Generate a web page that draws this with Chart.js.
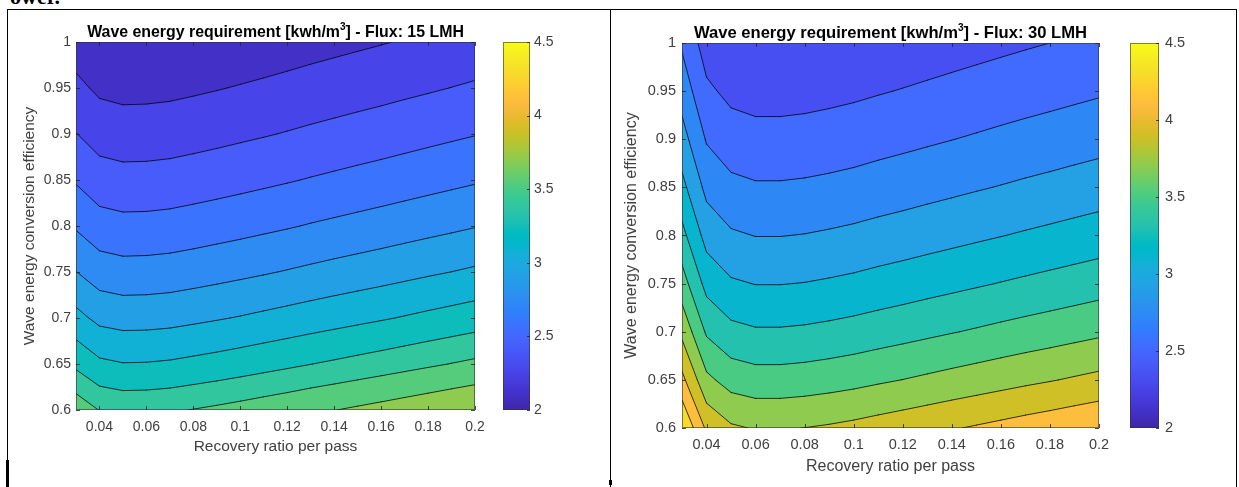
<!DOCTYPE html>
<html>
<head>
<meta charset="utf-8">
<script src="https://cdn.jsdelivr.net/npm/chart.js@4.4.1/dist/chart.umd.min.js"></script>
<style>
  html, body { margin: 0; padding: 0; background: #fff; }
  body { width: 1239px; height: 487px; position: relative; overflow: hidden; }
  canvas { position: absolute; top: 0; }
  .rule { position: absolute; background: #000; }
  .prev { position: absolute; left: 10px; top: -14px; font: bold 22px 'Liberation Serif', 'Times New Roman', serif; line-height: 22px; color: #000; }
</style>
</head>
<body>
<div class="prev">ower.</div>
<canvas id="chart15" width="610" height="487" style="left:0"></canvas>
<canvas id="chart30" width="629" height="487" style="left:610px"></canvas>
<div class="rule" style="left:7px;top:9px;width:1230px;height:1px"></div>
<div class="rule" style="left:7px;top:9px;width:1px;height:478px"></div>
<div class="rule" style="left:6px;top:460px;width:3px;height:27px"></div>
<div class="rule" style="left:610px;top:9px;width:1px;height:478px"></div>
<div class="rule" style="left:609px;top:480px;width:3px;height:5px"></div>
<div class="rule" style="left:1236px;top:9px;width:1px;height:478px"></div>
<script>
// grid axes
const recovery = [0.03, 0.04, 0.05, 0.06, 0.07, 0.08, 0.09, 0.10, 0.11, 0.12, 0.13, 0.14, 0.15, 0.16, 0.17, 0.18, 0.19, 0.20];
const efficiency = [1.00, 0.95, 0.90, 0.85, 0.80, 0.75, 0.70, 0.65, 0.60];

// wave energy requirement [kWh/m3], one row per efficiency, one column per recovery ratio
const energy15 = [
  [2.185, 2.122, 2.106, 2.108, 2.115, 2.128, 2.142, 2.157, 2.173, 2.189, 2.206, 2.222, 2.238, 2.254, 2.271, 2.288, 2.305, 2.322],
  [2.300, 2.234, 2.217, 2.219, 2.226, 2.240, 2.255, 2.271, 2.287, 2.304, 2.322, 2.339, 2.356, 2.373, 2.391, 2.408, 2.426, 2.444],
  [2.428, 2.358, 2.340, 2.342, 2.350, 2.364, 2.380, 2.397, 2.414, 2.432, 2.451, 2.469, 2.487, 2.504, 2.523, 2.542, 2.561, 2.580],
  [2.571, 2.496, 2.478, 2.480, 2.488, 2.504, 2.520, 2.538, 2.556, 2.575, 2.595, 2.614, 2.633, 2.652, 2.672, 2.692, 2.712, 2.732],
  [2.731, 2.653, 2.633, 2.635, 2.644, 2.660, 2.678, 2.696, 2.716, 2.736, 2.758, 2.778, 2.798, 2.818, 2.839, 2.860, 2.881, 2.903],
  [2.913, 2.829, 2.808, 2.811, 2.820, 2.837, 2.856, 2.876, 2.897, 2.919, 2.941, 2.963, 2.984, 3.005, 3.028, 3.051, 3.073, 3.096],
  [3.121, 3.031, 3.009, 3.011, 3.021, 3.040, 3.060, 3.081, 3.104, 3.127, 3.151, 3.174, 3.197, 3.220, 3.244, 3.269, 3.293, 3.317],
  [3.362, 3.265, 3.240, 3.243, 3.254, 3.274, 3.295, 3.318, 3.343, 3.368, 3.394, 3.418, 3.443, 3.468, 3.494, 3.520, 3.546, 3.572],
  [3.642, 3.537, 3.510, 3.513, 3.525, 3.547, 3.570, 3.595, 3.622, 3.648, 3.677, 3.703, 3.730, 3.757, 3.785, 3.813, 3.842, 3.870]
];
const energy30 = [
  [2.697, 2.437, 2.356, 2.333, 2.333, 2.341, 2.354, 2.370, 2.390, 2.409, 2.429, 2.449, 2.469, 2.489, 2.509, 2.528, 2.548, 2.568],
  [2.839, 2.565, 2.480, 2.456, 2.456, 2.464, 2.478, 2.495, 2.516, 2.536, 2.557, 2.578, 2.599, 2.620, 2.641, 2.661, 2.682, 2.703],
  [2.997, 2.708, 2.618, 2.592, 2.592, 2.601, 2.616, 2.633, 2.656, 2.677, 2.699, 2.721, 2.743, 2.766, 2.788, 2.809, 2.831, 2.853],
  [3.173, 2.867, 2.772, 2.745, 2.745, 2.754, 2.769, 2.788, 2.812, 2.834, 2.858, 2.881, 2.905, 2.928, 2.952, 2.974, 2.998, 3.021],
  [3.371, 3.046, 2.945, 2.916, 2.916, 2.926, 2.943, 2.963, 2.988, 3.011, 3.036, 3.061, 3.086, 3.111, 3.136, 3.160, 3.185, 3.210],
  [3.596, 3.249, 3.141, 3.111, 3.111, 3.121, 3.139, 3.160, 3.187, 3.212, 3.239, 3.265, 3.292, 3.319, 3.345, 3.371, 3.397, 3.424],
  [3.853, 3.481, 3.366, 3.333, 3.333, 3.344, 3.363, 3.386, 3.414, 3.441, 3.470, 3.499, 3.527, 3.556, 3.584, 3.611, 3.640, 3.669],
  [4.149, 3.749, 3.625, 3.589, 3.589, 3.602, 3.622, 3.646, 3.677, 3.706, 3.737, 3.768, 3.798, 3.829, 3.860, 3.889, 3.920, 3.951],
  [4.495, 4.062, 3.927, 3.888, 3.888, 3.902, 3.923, 3.950, 3.983, 4.015, 4.048, 4.082, 4.115, 4.148, 4.182, 4.213, 4.247, 4.280]
];

// contour levels (10 per map)
const levels15 = [2.262, 2.424, 2.586, 2.748, 2.910, 3.072, 3.234, 3.396, 3.542, 3.706];
const levels30 = [2.528, 2.724, 2.920, 3.116, 3.312, 3.508, 3.704, 3.900, 4.096, 4.292];

const recoveryTicks = [0.04, 0.06, 0.08, 0.1, 0.12, 0.14, 0.16, 0.18, 0.2];
const efficiencyTicks = [0.6, 0.65, 0.7, 0.75, 0.8, 0.85, 0.9, 0.95, 1];
const colorbarTicks = [2, 2.5, 3, 3.5, 4, 4.5];
const colorLimits = [2, 4.5];

const titleHead = 'Wave energy requirement [kwh/m';
const titleSup = '3';
const titleTail = '] - Flux: ';
const fluxLabels = ['15 LMH', '30 LMH'];
const xTitle = 'Recovery ratio per pass';
const yTitle = 'Wave energy conversion efficiency';

const FONT = "'Liberation Sans', Arial, Helvetica, sans-serif";
const INK = '#404040';

// parula, 64 entries
const PARULA = [
  [0.2422,0.1504,0.6603],[0.2504,0.1650,0.7076],[0.2578,0.1818,0.7511],[0.2647,0.1978,0.7952],
  [0.2706,0.2147,0.8364],[0.2751,0.2342,0.8710],[0.2783,0.2559,0.8991],[0.2803,0.2782,0.9221],
  [0.2813,0.3006,0.9414],[0.2810,0.3228,0.9579],[0.2795,0.3447,0.9717],[0.2760,0.3667,0.9829],
  [0.2699,0.3892,0.9906],[0.2602,0.4123,0.9952],[0.2440,0.4358,0.9988],[0.2206,0.4603,0.9973],
  [0.1963,0.4847,0.9892],[0.1834,0.5074,0.9798],[0.1786,0.5289,0.9682],[0.1764,0.5499,0.9520],
  [0.1687,0.5703,0.9359],[0.1540,0.5902,0.9218],[0.1460,0.6091,0.9079],[0.1380,0.6276,0.8973],
  [0.1248,0.6459,0.8883],[0.1113,0.6635,0.8763],[0.0952,0.6798,0.8598],[0.0689,0.6948,0.8394],
  [0.0297,0.7082,0.8163],[0.0036,0.7203,0.7917],[0.0067,0.7312,0.7660],[0.0433,0.7411,0.7394],
  [0.0964,0.7500,0.7120],[0.1408,0.7584,0.6842],[0.1717,0.7670,0.6554],[0.1938,0.7758,0.6251],
  [0.2161,0.7843,0.5923],[0.2470,0.7918,0.5567],[0.2906,0.7973,0.5188],[0.3406,0.8008,0.4789],
  [0.3909,0.8029,0.4354],[0.4456,0.8024,0.3909],[0.5044,0.7993,0.3480],[0.5616,0.7942,0.3045],
  [0.6174,0.7876,0.2612],[0.6720,0.7793,0.2227],[0.7242,0.7698,0.1910],[0.7738,0.7598,0.1646],
  [0.8203,0.7498,0.1535],[0.8634,0.7406,0.1596],[0.9035,0.7330,0.1774],[0.9393,0.7288,0.2100],
  [0.9728,0.7298,0.2394],[0.9956,0.7434,0.2371],[0.9970,0.7659,0.2199],[0.9952,0.7893,0.2028],
  [0.9892,0.8136,0.1885],[0.9786,0.8386,0.1766],[0.9676,0.8639,0.1643],[0.9610,0.8890,0.1537],
  [0.9597,0.9135,0.1423],[0.9628,0.9373,0.1265],[0.9691,0.9606,0.1064],[0.9769,0.9839,0.0805]
];

function parula(t) {
  t = Math.min(1, Math.max(0, t));
  const f = t * (PARULA.length - 1);
  const i = Math.min(PARULA.length - 2, Math.floor(f));
  const u = f - i;
  const a = PARULA[i], b = PARULA[i + 1];
  return [0, 1, 2].map(k => Math.round(255 * (a[k] + (b[k] - a[k]) * u)));
}

// index of the interval holding v, and the fraction inside it
function locate(arr, v) {
  const n = arr.length - 1;
  for (let k = 0; k < n; k++) {
    const t = (v - arr[k]) / (arr[k + 1] - arr[k]);
    if (t <= 1 || k === n - 1) return [k, Math.min(1, Math.max(0, t))];
  }
}

const fmt = v => String(Number(Number(v).toFixed(3)));

// filled bands + contour lines
function contourLayer(grid, levels) {
  return {
    id: 'contour',
    beforeDatasetsDraw(chart) {
      const { ctx, chartArea: a, scales } = chart;
      const xs = scales.x, ys = scales.y, cs = scales.c;
      const shade = v => parula((v - cs.min) / (cs.max - cs.min));
      const lowest = Math.min(...grid.flat());
      const bands = [shade(lowest)].concat(levels.map(shade));

      const w = Math.round(a.right - a.left), h = Math.round(a.bottom - a.top);
      const img = ctx.createImageData(w, h);
      const cols = [];
      for (let px = 0; px < w; px++) cols.push(locate(recovery, xs.getValueForPixel(a.left + px + 0.5)));
      for (let py = 0; py < h; py++) {
        const [j, t] = locate(efficiency, ys.getValueForPixel(a.top + py + 0.5));
        const g0 = grid[j], g1 = grid[j + 1];
        for (let px = 0; px < w; px++) {
          const [i, u] = cols[px];
          const v = (g0[i] * (1 - u) + g0[i + 1] * u) * (1 - t) + (g1[i] * (1 - u) + g1[i + 1] * u) * t;
          let b = 0;
          while (b < levels.length && v >= levels[b]) b++;
          const c = bands[b], o = (py * w + px) * 4;
          img.data[o] = c[0]; img.data[o + 1] = c[1]; img.data[o + 2] = c[2]; img.data[o + 3] = 255;
        }
      }
      ctx.putImageData(img, Math.round(a.left), Math.round(a.top));

      ctx.save();
      ctx.beginPath();
      ctx.rect(a.left, a.top, a.right - a.left, a.bottom - a.top);
      ctx.clip();
      ctx.strokeStyle = 'rgba(0,0,0,0.85)';
      ctx.lineWidth = 0.9;
      ctx.lineCap = 'round';
      for (const L of levels) {
        ctx.beginPath();
        for (let j = 0; j < efficiency.length - 1; j++) {
          for (let i = 0; i < recovery.length - 1; i++) {
            const corners = [[i, j], [i + 1, j], [i + 1, j + 1], [i, j + 1]];
            const pts = [];
            for (let e = 0; e < 4; e++) {
              const [ia, ja] = corners[e], [ib, jb] = corners[(e + 1) % 4];
              const va = grid[ja][ia], vb = grid[jb][ib];
              if ((va < L) !== (vb < L)) {
                const s = (L - va) / (vb - va);
                const r = recovery[ia] + (recovery[ib] - recovery[ia]) * s;
                const eta = efficiency[ja] + (efficiency[jb] - efficiency[ja]) * s;
                pts.push([xs.getPixelForValue(r), ys.getPixelForValue(eta)]);
              }
            }
            if (pts.length >= 2) {
              ctx.moveTo(pts[0][0], pts[0][1]);
              ctx.lineTo(pts[1][0], pts[1][1]);
            }
            if (pts.length === 4) {
              ctx.moveTo(pts[2][0], pts[2][1]);
              ctx.lineTo(pts[3][0], pts[3][1]);
            }
          }
        }
        ctx.stroke();
      }
      ctx.restore();
    }
  };
}

// axes box with inward ticks, colorbar and the title
function frameLayer(L, flux) {
  return {
    id: 'frame',
    afterDatasetsDraw(chart) {
      const { ctx, chartArea: a, scales } = chart;
      const xs = scales.x, ys = scales.y, cs = scales.c;
      ctx.save();
      ctx.strokeStyle = 'rgba(50,50,50,0.6)';
      ctx.lineWidth = 1;
      ctx.strokeRect(a.left + 0.5, a.top + 0.5, a.right - a.left - 1, a.bottom - a.top - 1);

      ctx.strokeStyle = 'rgba(38,38,38,0.85)';
      ctx.beginPath();
      for (const v of recoveryTicks) {
        const p = Math.round(xs.getPixelForValue(v)) + 0.5;
        ctx.moveTo(p, a.bottom); ctx.lineTo(p, a.bottom - L.tick);
        ctx.moveTo(p, a.top); ctx.lineTo(p, a.top + L.tick);
      }
      for (const v of efficiencyTicks) {
        const p = Math.round(ys.getPixelForValue(v)) + 0.5;
        ctx.moveTo(a.left, p); ctx.lineTo(a.left + L.tick, p);
        ctx.moveTo(a.right, p); ctx.lineTo(a.right - L.tick, p);
      }
      ctx.stroke();

      // colorbar
      const x0 = a.right + L.cbGap;
      const yTop = cs.getPixelForValue(colorLimits[1]);
      const yBot = cs.getPixelForValue(colorLimits[0]);
      const grad = ctx.createLinearGradient(0, yBot, 0, yTop);
      PARULA.forEach((c, k) => {
        grad.addColorStop(k / (PARULA.length - 1), `rgb(${c.map(q => Math.round(q * 255)).join(',')})`);
      });
      ctx.fillStyle = grad;
      ctx.fillRect(x0, yTop, L.cbWidth, yBot - yTop);
      ctx.strokeStyle = 'rgba(50,50,50,0.6)';
      ctx.strokeRect(x0 + 0.5, yTop + 0.5, L.cbWidth - 1, yBot - yTop - 1);
      ctx.strokeStyle = 'rgba(38,38,38,0.85)';
      ctx.beginPath();
      for (const v of colorbarTicks) {
        const p = Math.round(cs.getPixelForValue(v)) + 0.5;
        ctx.moveTo(x0 + L.cbWidth, p); ctx.lineTo(x0 + L.cbWidth - L.tick + 1, p);
      }
      ctx.stroke();

      // title with superscript
      const big = `bold ${L.titleSize}px ${FONT}`;
      const small = `bold ${Math.round(L.titleSize * 0.62)}px ${FONT}`;
      const tail = titleTail + flux;
      ctx.font = big;
      const w1 = ctx.measureText(titleHead).width;
      const w3 = ctx.measureText(tail).width;
      ctx.font = small;
      const w2 = ctx.measureText(titleSup).width;
      let x = (a.left + a.right) / 2 - (w1 + w2 + w3) / 2;
      ctx.fillStyle = '#000';
      ctx.textAlign = 'left';
      ctx.textBaseline = 'alphabetic';
      ctx.font = big; ctx.fillText(titleHead, x, L.titleBase); x += w1;
      ctx.font = small; ctx.fillText(titleSup, x, L.titleBase - L.titleSize * 0.45); x += w2;
      ctx.font = big; ctx.fillText(tail, x, L.titleBase);
      ctx.restore();
    }
  };
}

function buildChart(id, grid, levels, flux, L) {
  const tickFont = { family: FONT, size: L.tickSize };
  const labelFont = { family: FONT, size: L.labelSize };
  return new Chart(document.getElementById(id), {
    type: 'scatter',
    data: { datasets: [] },
    options: {
      responsive: false,
      animation: false,
      events: [],
      layout: { padding: { left: 0, right: 0, top: L.plotTop, bottom: 0 } },
      plugins: { legend: { display: false }, tooltip: { enabled: false } },
      scales: {
        x: {
          type: 'linear', min: 0.03, max: 0.2,
          afterBuildTicks: s => { s.ticks = recoveryTicks.map(v => ({ value: v })); },
          afterFit: s => { s.height = L.height - L.plotBottom; },
          grid: { display: false, drawTicks: true, tickLength: L.xTickPad }, border: { display: false },
          ticks: { padding: 0, font: tickFont, color: INK, callback: fmt, maxRotation: 0, autoSkip: false },
          title: { display: true, text: xTitle, font: labelFont, color: INK, padding: { top: 0, bottom: L.xTitlePad } }
        },
        y: {
          type: 'linear', position: 'left', min: 0.6, max: 1,
          afterBuildTicks: s => { s.ticks = efficiencyTicks.map(v => ({ value: v })); },
          afterFit: s => { s.width = L.plotLeft; },
          grid: { display: false, drawTicks: true, tickLength: L.yTickPad }, border: { display: false },
          ticks: { padding: 0, font: tickFont, color: INK, callback: fmt, autoSkip: false },
          title: { display: true, text: yTitle, font: labelFont, color: INK, padding: { top: L.yTitlePad, bottom: 0 } }
        },
        c: {
          type: 'linear', axis: 'y', position: 'right', min: colorLimits[0], max: colorLimits[1],
          afterBuildTicks: s => { s.ticks = colorbarTicks.map(v => ({ value: v })); },
          afterFit: s => { s.width = L.width - L.plotRight; },
          grid: { display: false, drawTicks: true, tickLength: L.cbTickPad }, border: { display: false },
          ticks: { padding: 0, font: tickFont, color: INK, callback: fmt, autoSkip: false }
        }
      }
    },
    plugins: [contourLayer(grid, levels), frameLayer(L, flux)]
  });
}

buildChart('chart15', energy15, levels15, fluxLabels[0], {
  width: 610, height: 487,
  plotLeft: 76, plotRight: 475, plotTop: 42, plotBottom: 410,
  cbGap: 28, cbWidth: 27, tick: 4,
  tickSize: 14, labelSize: 15.5, titleSize: 15.9, titleBase: 37,
  xTickPad: 8.6, yTickPad: 5, cbTickPad: 59, xTitlePad: 30.7, yTitlePad: 20.4
});

buildChart('chart30', energy30, levels30, fluxLabels[1], {
  width: 629, height: 487,
  plotLeft: 72, plotRight: 489, plotTop: 43, plotBottom: 428,
  cbGap: 31, cbWidth: 29, tick: 4,
  tickSize: 14.5, labelSize: 16, titleSize: 16.6, titleBase: 38,
  xTickPad: 8.3, yTickPad: 6, cbTickPad: 66, xTitlePad: 10.4, yTitlePad: 12.4
});
</script>
</body>
</html>
